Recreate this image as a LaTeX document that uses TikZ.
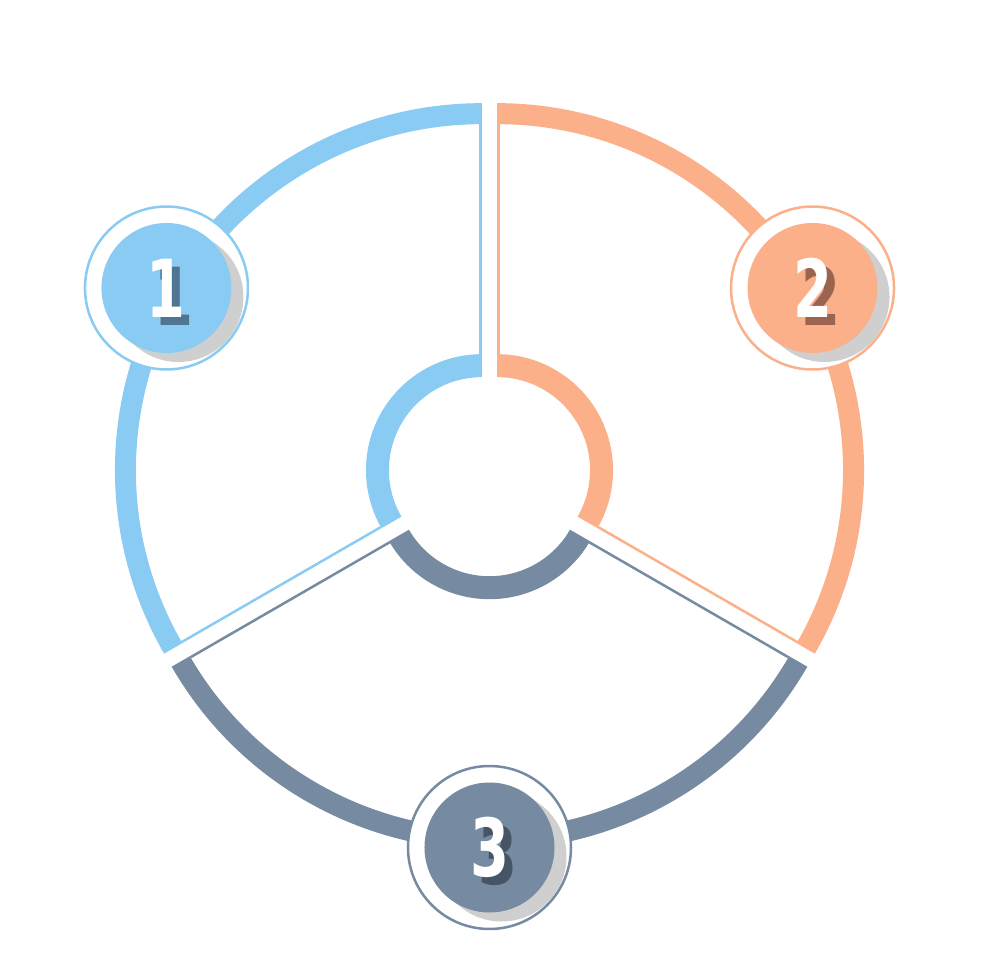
\documentclass[tikz,border=0pt]{standalone}
\usepackage{fontspec}
\usepackage{graphicx}
\setsansfont{DejaVu Sans}
\usetikzlibrary{calc}
\definecolor{segblue}{HTML}{89CBF3}
\definecolor{segorange}{HTML}{FBB08A}
\definecolor{segslate}{HTML}{768BA1}
\definecolor{inkblue}{HTML}{4F7590}
\definecolor{inkorange}{HTML}{9A6450}
\definecolor{inkslate}{HTML}{465566}
\tikzset{
  ring/.style={circle,draw=#1,line width=2.5pt,fill=white,minimum size=163pt,inner sep=0pt},
  disc/.style={circle,fill=#1,minimum size=130pt,inner sep=0pt},
  shade/.style={circle,fill=black!19,minimum size=130pt,inner sep=0pt},
  digit/.style={font=\fontsize{80}{80}\selectfont\bfseries\sffamily,text=#1,inner sep=0pt},
  edgeline/.style={draw=#1,line width=2.5pt}
}
\newcommand{\narrow}[1]{\scalebox{0.7}[1]{#1}}

\begin{document}
\begin{tikzpicture}[x=1pt,y=1pt]
  \useasboundingbox (-489.5,-505.5) rectangle (490.5,474.5);
  % three exploded segments
  \foreach \a/\b/\c in {90/210/segblue,-30/90/segorange,210/330/segslate}{
    \pgfmathsetmacro\m{(\a+\b)/2}
    \begin{scope}[shift={(\m:8.7)}]
      \fill[\c] (\a:367) arc[start angle=\a,end angle=\b,radius=367pt]
        -- (\b:346) arc[start angle=\b,end angle=\a,radius=346pt] -- cycle;
      \fill[\c] (\a:116) arc[start angle=\a,end angle=\b,radius=116pt]
        -- (\b:93) arc[start angle=\b,end angle=\a,radius=93pt] -- cycle;
      \draw[edgeline=\c] ($(\a:116)+(\a+90:1.25)$) -- ($(\a:346)+(\a+90:1.25)$);
      \draw[edgeline=\c] ($(\b:116)+(\b-90:1.25)$) -- ($(\b:346)+(\b-90:1.25)$);
    \end{scope}
  }
  % number badges
  \foreach \ang/\n/\c/\k in {150/1/segblue/inkblue,30/2/segorange/inkorange,270/3/segslate/inkslate}{
    \node[ring=\c] (r\n) at (\ang:373) {};
    \node[shade] (s\n) at ($(r\n.center)+(12,-9)$) {};
    \node[disc=\c] (c\n) at (r\n.center) {};
    \node[digit=\k] (k\n) at ($(c\n.center)+(8,-8)$) {\narrow{\n}};
    \node[digit=white] (n\n) at (c\n.center) {\narrow{\n}};
  }
\end{tikzpicture}
\end{document}
